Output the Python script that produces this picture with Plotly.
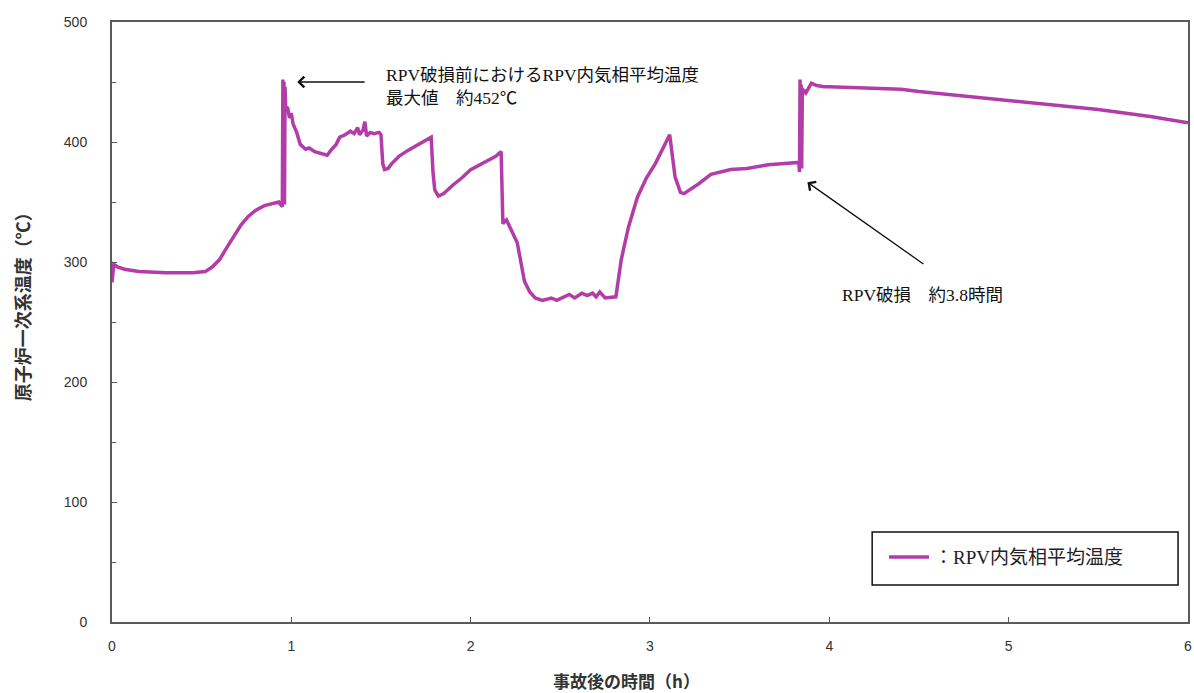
import plotly.graph_objects as go

# Time after the accident (h) and RPV gas-phase average temperature (degC)
hours = [
    0.00, 0.01, 0.03, 0.07, 0.15, 0.30, 0.45, 0.52, 0.56, 0.60, 0.64, 0.68,
    0.72, 0.76, 0.80, 0.85, 0.90, 0.93, 0.94, 0.950,
    0.953, 0.956, 0.959, 0.962, 0.965, 0.968, 0.98, 0.99, 1.00, 1.01, 1.03,
    1.05, 1.08, 1.10, 1.13, 1.18, 1.20, 1.22, 1.25, 1.27, 1.30, 1.33, 1.35,
    1.37, 1.38, 1.40, 1.41, 1.42, 1.44, 1.46, 1.49, 1.50, 1.51, 1.52, 1.54,
    1.56, 1.60, 1.65, 1.70, 1.75, 1.78, 1.79, 1.80, 1.82, 1.85, 1.90, 1.95,
    2.00, 2.05, 2.10, 2.14, 2.17, 2.175, 2.18, 2.20, 2.23, 2.26, 2.28, 2.30,
    2.33, 2.36, 2.40, 2.45, 2.48, 2.52, 2.55, 2.58, 2.62, 2.65, 2.68, 2.70,
    2.72, 2.75, 2.79, 2.81, 2.84, 2.88, 2.93, 2.98, 3.03, 3.07, 3.11, 3.14,
    3.17, 3.19, 3.23, 3.27, 3.34, 3.45, 3.54, 3.66, 3.75, 3.83,
    3.834, 3.837, 3.840, 3.843, 3.846, 3.850, 3.855, 3.86, 3.87, 3.90, 3.93,
    3.97, 4.00, 4.20, 4.40, 4.50, 4.70, 4.90, 5.00, 5.30, 5.50, 5.80, 6.00,
]
temperature = [
    283, 298, 296, 294, 292, 291, 291, 292, 296, 302, 312, 322,
    331, 338, 343, 347, 349, 350, 348, 346,
    452, 350, 450, 348, 446, 430, 428, 420, 424, 415, 408,
    398, 394, 395, 392, 390, 389, 393, 398, 404, 406, 409, 407,
    412, 406, 410, 417, 405, 408, 407, 408, 406, 382, 377, 378,
    382, 388, 393, 397, 401, 404, 375, 360, 355, 357, 364, 370,
    377, 381, 385, 388, 392, 340, 332, 335, 325, 316, 300, 284,
    275, 270, 268, 270, 268, 271, 273, 270, 274, 272, 274, 271,
    275, 270, 271, 271, 302, 329, 354, 370, 382, 394, 406, 371,
    358, 357, 361, 365, 373, 377, 378, 381, 382, 383,
    375, 452, 380, 448, 378, 445, 440, 443, 441, 449, 447,
    446, 446, 445, 444, 442, 439, 436, 434, 430, 427, 421, 416,
]

x_ticks = [0, 1, 2, 3, 4, 5, 6]
y_ticks = [0, 100, 200, 300, 400, 500]

peak_time, peak_temp = 0.953, 452
breach_time, breach_temp = 3.834, 375

serif = "Liberation Serif, Noto Sans CJK JP, serif"
gothic = "Noto Sans CJK JP, Liberation Sans, sans-serif"
line_color = "#B23CA8"
axis_color = "#5a5a5a"

fig = go.Figure()
fig.add_trace(go.Scatter(
    x=hours, y=temperature, mode="lines",
    line=dict(color=line_color, width=3.5),
    name="：RPV内気相平均温度",
))

fig.update_layout(
    width=1194, height=693,
    margin=dict(l=112, r=2, t=22, b=71),
    paper_bgcolor="white", plot_bgcolor="white",
    showlegend=True,
    legend=dict(
        x=0.7175, y=0.108, xanchor="left", yanchor="middle",
        bgcolor="rgba(0,0,0,0)", borderwidth=0,
        font=dict(family=serif, size=19, color="#222"),
        itemwidth=40,
    ),
    xaxis=dict(
        range=[0, 6.0005], tickvals=x_ticks, ticks="inside", ticklen=5,
        tickcolor=axis_color, showgrid=False, zeroline=False,
        showline=True, linecolor=axis_color, linewidth=2, mirror=True,
        tickfont=dict(family="Liberation Sans, sans-serif", size=14, color="#333"),
        ticklabelstandoff=10, ticklabeloverflow="allow",
    ),
    yaxis=dict(
        range=[0, 500], tickvals=y_ticks, ticks="inside", ticklen=5,
        tickcolor=axis_color, showgrid=False, zeroline=False,
        showline=True, linecolor=axis_color, linewidth=2, mirror=True,
        tickfont=dict(family="Liberation Sans, sans-serif", size=14, color="#333"),
        ticklabelstandoff=20,
        minor=dict(dtick=50, ticks="inside", ticklen=4, tickcolor=axis_color),
    ),
)

# Legend frame
fig.add_shape(type="rect", xref="paper", yref="paper",
              x0=(875 - 112) / 1080, x1=(1182 - 112) / 1080,
              y0=(622 - 585) / 600, y1=(622 - 532) / 600,
              line=dict(color="#111", width=1.5), fillcolor="rgba(0,0,0,0)")

# Axis titles
fig.add_annotation(text="<b>事故後の時間（h）</b>", xref="paper", yref="paper",
                   x=(628 - 112) / 1080, y=(622 - 680) / 600,
                   showarrow=False, xanchor="center", yanchor="middle",
                   font=dict(family=gothic, size=17, color="#333"))
fig.add_annotation(text="<b>原子炉一次系温度（℃）</b>", xref="paper", yref="paper",
                   x=(22 - 112) / 1080, y=(622 - 302) / 600, textangle=-90,
                   showarrow=False, xanchor="center", yanchor="middle",
                   font=dict(family=gothic, size=18, color="#333"))

# Callout: maximum before RPV breach
fig.add_annotation(x=peak_time + 0.08, y=peak_temp - 2, ax=1.417, ay=peak_temp - 2,
                   axref="x", ayref="y", xref="x", yref="y",
                   showarrow=True, arrowhead=4, arrowsize=1.6, arrowwidth=1.3,
                   arrowcolor="#111", text="")
fig.add_annotation(x=1.517, y=446.5, xref="x", yref="y", showarrow=False,
                   xanchor="left", yanchor="middle", align="left",
                   text="RPV破損前におけるRPV内気相平均温度<br>最大値　約452℃",
                   font=dict(family=serif, size=17.5, color="#111"))

# Callout: RPV breach time
fig.add_annotation(x=breach_time + 0.044, y=breach_temp - 8.5, ax=4.533, ay=297.5,
                   axref="x", ayref="y", xref="x", yref="y",
                   showarrow=True, arrowhead=4, arrowsize=1.6, arrowwidth=1.3,
                   arrowcolor="#111", text="")
fig.add_annotation(x=4.061, y=272.5, xref="x", yref="y", showarrow=False,
                   xanchor="left", yanchor="middle",
                   text="RPV破損　約3.8時間",
                   font=dict(family=serif, size=17.5, color="#111"))

fig.write_html("out.html")
